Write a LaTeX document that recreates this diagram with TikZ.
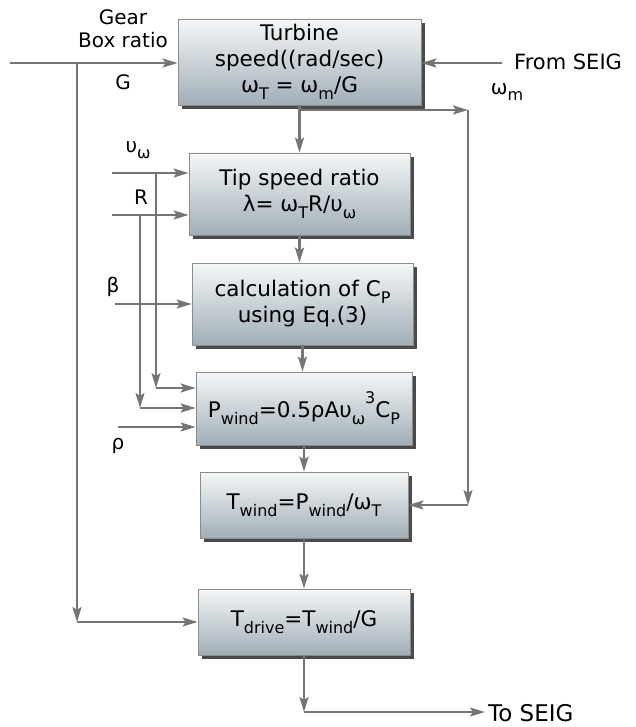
\documentclass[tikz,border=0pt]{standalone}
\usepackage{fontspec}
\setmainfont{DejaVu Sans}
\usepackage{tikz}
\usetikzlibrary{positioning, shadows, arrows.meta}
\usepackage{xcolor}

\definecolor{linegray}{HTML}{757575}
\definecolor{boxtop}{HTML}{F5F7F8}
\definecolor{boxbot}{HTML}{A0AEB7}
\definecolor{boxedge}{HTML}{8C8C8C}
\definecolor{shade}{HTML}{4A4A4A}

\newcommand{\dn}[1]{\raisebox{-0.6ex}{\fontsize{16}{16}\selectfont #1}}
\newcommand{\up}[1]{\raisebox{1.2ex}{\fontsize{16}{16}\selectfont #1}}

\tikzset{
  blockbox/.style={rectangle, draw=boxedge, line width=0.8pt, top color=boxtop, bottom color=boxbot,
    align=center, inner sep=2pt, font=\fontsize{21.5}{26}\selectfont,
    drop shadow={shadow xshift=4pt, shadow yshift=-4pt, fill=shade, opacity=1}},
  conn/.style={draw=linegray, line width=2.4pt, -{Stealth[length=15pt,width=9pt,inset=3pt]}},
  thinconn/.style={conn, line width=1.5pt},
  lbl/.style={font=\fontsize{20}{23}\selectfont, inner sep=1pt}
}

\begin{document}
\begin{tikzpicture}[x=1pt, y=-1pt]
\useasboundingbox (0,0) rectangle (635,727);

% blocks
\node[blockbox, minimum width=243pt, minimum height=86pt] (turb) at (299.5,62)
  {Turbine\\speed((rad/sec)\\ω\dn{T} = ω\dn{m}/G};
\node[blockbox, minimum width=221pt, minimum height=82pt] (tip) at (299.5,194)
  {Tip speed ratio\\λ= ω\dn{T}R/υ\dn{ω}};
\node[blockbox, minimum width=221pt, minimum height=82pt] (calc) at (302.5,304)
  {calculation of C\dn{P}\\using Eq.(3)};
\node[blockbox, minimum width=216pt, minimum height=73pt] (pwind) at (304,408.5)
  {P\dn{wind}=0.5ρAυ\dn{ω}\up{3}C\dn{P}};
\node[blockbox, minimum width=208pt, minimum height=66pt] (twind) at (304,505)
  {T\dn{wind}=P\dn{wind}/ω\dn{T}};
\node[blockbox, minimum width=212pt, minimum height=66pt] (tdrive) at (304,622)
  {T\dn{drive}=T\dn{wind}/G};

% labels
\node[lbl, align=center] (gearlbl) at (123,29) {Gear\\Box ratio};
\node[lbl] (glbl) at (123,82) {G};
\node[lbl, anchor=west, font=\fontsize{21}{24}\selectfont] (fromlbl) at (513,62) {From SEIG};
\node[lbl] (wmlbl) at (507,92) {ω\dn{m}};
\node[lbl] (vlbl) at (138,150) {υ\dn{ω}};
\node[lbl] (rlbl) at (141,197) {R};
\node[lbl] (blbl) at (113,287) {β};
\node[lbl] (rholbl) at (118,446) {ρ};
\node[lbl, anchor=west, font=\fontsize{23}{26}\selectfont] (tolbl) at (487,713) {To SEIG};

% free ends
\coordinate (gin) at (10,63);
\coordinate (gtap) at (77,63);
\coordinate (gdn) at (77,622);
\coordinate (seig) at (502,63);
\coordinate (wmtap) at (468,110);
\coordinate (wmdn) at (468,505);
\coordinate (vin) at (112,173);
\coordinate (vtap) at (156,173);
\coordinate (vdn) at (156,388);
\coordinate (rin) at (112,215);
\coordinate (rtap) at (140,215);
\coordinate (rdn) at (140,408);
\coordinate (bin) at (115,304);
\coordinate (rhoin) at (118,427);
\coordinate (outdn) at (304,712);
\coordinate (outend) at (485,712);

% inputs
\draw[conn] (gin) -- (gin -| turb.west);
\draw[conn] (gtap) -- (gdn);
\draw[conn] (gdn) -- (tdrive.west);
\draw[conn] (seig) -- (seig -| turb.east);
\draw[conn] (vin) -- (vin -| tip.west);
\draw[conn] (rin) -- (rin -| tip.west);
\draw[conn] (bin) -- (bin -| calc.west);
\draw[thinconn] (rhoin) -- (rhoin -| pwind.west);
\draw[thinconn] (vtap) -- (vdn);
\draw[conn] (vdn) -- (vdn -| pwind.west);
\draw[conn] (rtap) -- (rdn);
\draw[conn] (rdn) -- (rdn -| pwind.west);

% main chain
\draw[conn] (turb.south) -- (turb.south |- tip.north);
\draw[conn] (tip.south) -- (tip.south |- calc.north);
\draw[conn] (calc.south) -- (calc.south |- pwind.north);
\draw[conn] (pwind.south) -- (twind.north);
\draw[conn] (twind.south) -- (tdrive.north);
\draw[conn] (tdrive.south) -- (outdn);
\draw[conn] (outdn) -- (outend);

% speed feedback
\draw[conn] (turb.south |- wmtap) -- (wmtap);
\draw[thinconn] (wmtap) -- (wmdn);
\draw[conn] (wmdn) -- (twind.east);

\end{tikzpicture}
\end{document}
